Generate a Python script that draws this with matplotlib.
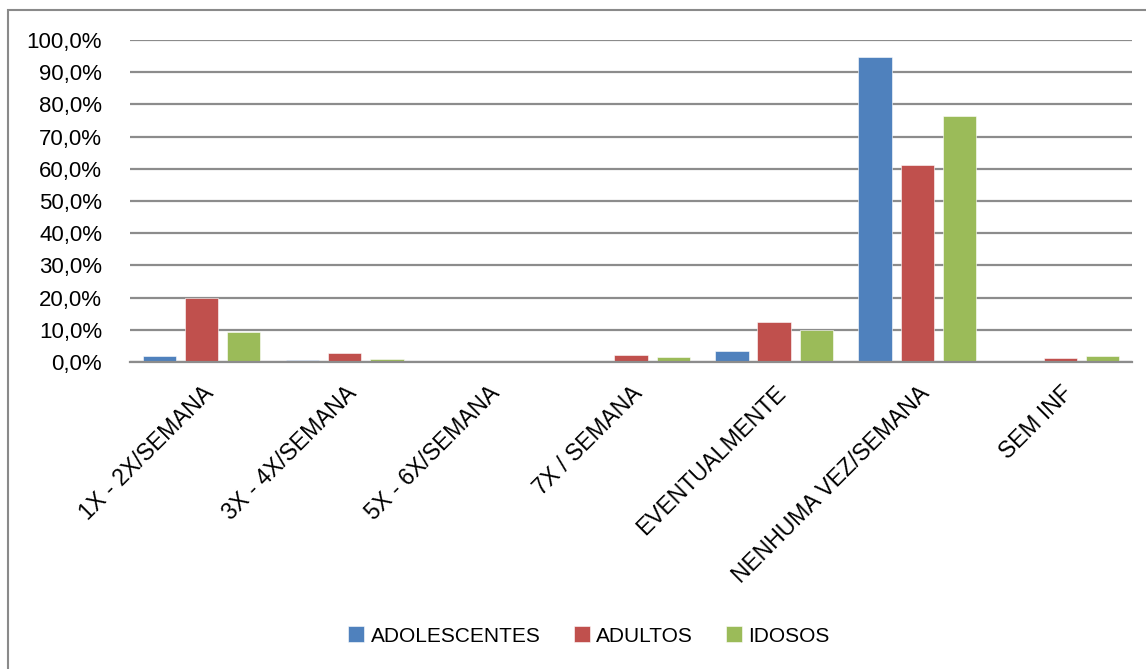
import numpy as np
import matplotlib
matplotlib.use("Agg")
import matplotlib.pyplot as plt
from matplotlib.patches import Rectangle
from matplotlib.ticker import FuncFormatter, MultipleLocator

categories = ["1X - 2X/SEMANA", "3X - 4X/SEMANA", "5X - 6X/SEMANA", "7X / SEMANA",
              "EVENTUALMENTE", "NENHUMA VEZ/SEMANA", "SEM INF"]
adolescentes = [1.9, 0.5, 0.0, 0.0, 3.4, 94.6, 0.0]
adultos = [20.0, 2.8, 0.0, 2.2, 12.3, 61.3, 1.1]
idosos = [9.3, 0.9, 0.0, 1.7, 10.0, 76.4, 1.9]
series_names = ["ADOLESCENTES", "ADULTOS", "IDOSOS"]
colors = ["#4F81BD", "#C0504D", "#9BBB59"]

W, H = 1146, 669
plt.rcParams["font.family"] = ["Liberation Sans", "DejaVu Sans"]
fig = plt.figure(figsize=(W / 100, H / 100), dpi=100)

# outer chart frame (cropped at right/bottom)
fig.patches.append(Rectangle((8 / W, -0.05), 1.2, 1 - 10 / H + 0.05,
                             transform=fig.transFigure, fill=False,
                             edgecolor="#8a8a8a", linewidth=1.5))

ax = fig.add_axes([130 / W, 1 - 362 / H, 1002 / W, 322 / H])
x = np.arange(len(categories))
bw = 0.233
offs = [-0.295, 0.0, 0.295]
for vals, off, c, name in zip([adolescentes, adultos, idosos], offs, colors, series_names):
    ax.bar(x + off, vals, width=bw, color=c, label=name,
           edgecolor="white", linewidth=0.4, zorder=3)

ax.set_xlim(-0.5, len(categories) - 0.5)
ax.set_ylim(0, 100)
ax.yaxis.set_major_locator(MultipleLocator(10))
ax.yaxis.set_major_formatter(FuncFormatter(lambda v, p: f"{v:.1f}%".replace(".", ",")))
ax.grid(axis="y", color="#8c8c8c", linewidth=1.6, zorder=0)
for s in ["left", "right", "top"]:
    ax.spines[s].set_visible(False)
ax.spines["bottom"].set_color("#8c8c8c")
ax.spines["bottom"].set_linewidth(1.6)
ax.spines["bottom"].set_zorder(4)
ax.tick_params(axis="y", length=0, pad=20, labelsize=16)
ax.tick_params(axis="x", length=0, pad=14, labelsize=16.5)
ax.set_xticks(x)
ax.set_xticklabels(categories, rotation=45, ha="right", va="top",
                   rotation_mode="anchor")

fig.legend(loc="center", bbox_to_anchor=(589 / W, 1 - 636 / H), ncol=3, frameon=False,
           fontsize=15, handlelength=0.77, handleheight=0.77, handletextpad=0.3,
           columnspacing=1.6)

fig.savefig("out.png", dpi=100)
